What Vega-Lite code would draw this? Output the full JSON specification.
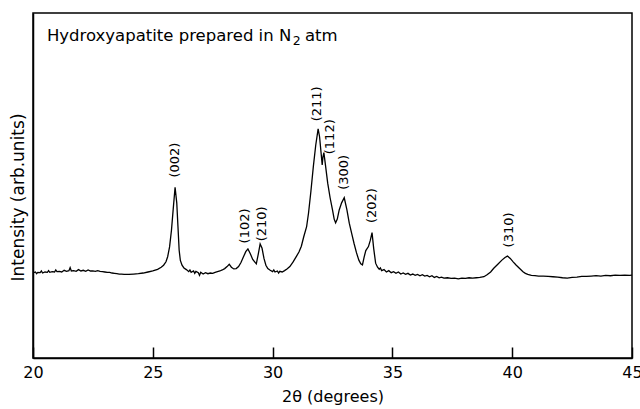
{
  "$schema": "https://vega.github.io/schema/vega-lite/v6.json",
  "width": 599,
  "height": 345,
  "autosize": {"type": "none"},
  "padding": {"left": 33, "top": 13, "right": 8, "bottom": 51},
  "background": "white",
  "config": {
    "view": {"stroke": "black", "strokeWidth": 1.5},
    "font": "DejaVu Sans"
  },
  "datasets": {
    "xrd": [
      {"t":20.00,"i":23.3},{"t":20.10,"i":23.6},{"t":20.15,"i":23.1},{"t":20.20,"i":23.5},{"t":20.30,"i":23.4},
      {"t":20.35,"i":23.9},{"t":20.40,"i":23.3},{"t":20.50,"i":23.6},{"t":20.60,"i":23.5},{"t":20.65,"i":24.0},
      {"t":20.70,"i":23.5},{"t":20.80,"i":23.7},{"t":20.90,"i":23.6},{"t":20.95,"i":24.2},{"t":21.00,"i":23.7},
      {"t":21.10,"i":23.8},{"t":21.20,"i":23.6},{"t":21.30,"i":24.1},{"t":21.40,"i":23.8},{"t":21.50,"i":24.0},
      {"t":21.55,"i":24.9},{"t":21.60,"i":23.9},{"t":21.70,"i":24.0},{"t":21.80,"i":23.8},{"t":21.90,"i":24.3},
      {"t":22.00,"i":23.9},{"t":22.10,"i":24.1},{"t":22.20,"i":23.8},{"t":22.30,"i":24.2},{"t":22.40,"i":23.9},
      {"t":22.50,"i":23.9},{"t":22.60,"i":23.8},{"t":22.70,"i":24.0},{"t":22.80,"i":23.8},{"t":22.90,"i":23.7},
      {"t":23.00,"i":23.6},{"t":23.10,"i":23.5},{"t":23.20,"i":23.5},{"t":23.30,"i":23.3},{"t":23.40,"i":23.2},
      {"t":23.50,"i":23.1},{"t":23.60,"i":23.0},{"t":23.70,"i":23.0},{"t":23.80,"i":22.9},{"t":23.90,"i":22.9},
      {"t":24.00,"i":22.9},{"t":24.20,"i":23.0},{"t":24.40,"i":23.1},{"t":24.60,"i":23.3},{"t":24.80,"i":23.6},
      {"t":25.00,"i":23.9},{"t":25.20,"i":24.4},{"t":25.35,"i":25.0},{"t":25.45,"i":25.6},{"t":25.55,"i":26.6},
      {"t":25.62,"i":28.1},{"t":25.70,"i":31.0},{"t":25.78,"i":36.0},{"t":25.85,"i":42.0},{"t":25.93,"i":48.6},
      {"t":26.00,"i":44.0},{"t":26.05,"i":37.0},{"t":26.10,"i":30.0},{"t":26.15,"i":27.0},{"t":26.22,"i":25.6},
      {"t":26.30,"i":24.8},{"t":26.40,"i":24.3},{"t":26.50,"i":23.7},{"t":26.55,"i":24.2},{"t":26.60,"i":23.5},
      {"t":26.70,"i":23.9},{"t":26.75,"i":23.2},{"t":26.80,"i":23.8},{"t":26.90,"i":23.4},{"t":26.95,"i":22.6},
      {"t":27.00,"i":23.5},{"t":27.10,"i":23.0},{"t":27.20,"i":23.4},{"t":27.30,"i":23.1},{"t":27.40,"i":23.3},
      {"t":27.50,"i":23.2},{"t":27.60,"i":23.5},{"t":27.70,"i":23.7},{"t":27.80,"i":23.9},{"t":27.90,"i":24.2},
      {"t":28.00,"i":24.6},{"t":28.10,"i":25.2},{"t":28.19,"i":25.9},{"t":28.28,"i":25.0},{"t":28.38,"i":24.5},
      {"t":28.48,"i":24.6},{"t":28.58,"i":25.2},{"t":28.68,"i":26.4},{"t":28.78,"i":28.0},{"t":28.88,"i":29.6},
      {"t":28.97,"i":30.4},{"t":29.07,"i":29.0},{"t":29.17,"i":27.3},{"t":29.32,"i":26.0},{"t":29.40,"i":28.8},
      {"t":29.48,"i":31.9},{"t":29.56,"i":30.6},{"t":29.64,"i":27.6},{"t":29.72,"i":25.6},{"t":29.80,"i":24.6},
      {"t":29.90,"i":24.1},{"t":30.00,"i":23.7},{"t":30.05,"i":24.2},{"t":30.10,"i":23.6},{"t":30.20,"i":23.9},
      {"t":30.25,"i":23.3},{"t":30.30,"i":23.8},{"t":30.40,"i":23.6},{"t":30.50,"i":24.0},{"t":30.60,"i":24.5},
      {"t":30.72,"i":25.2},{"t":30.85,"i":26.5},{"t":31.00,"i":28.3},{"t":31.10,"i":29.5},{"t":31.20,"i":31.2},
      {"t":31.30,"i":34.0},{"t":31.42,"i":37.0},{"t":31.50,"i":41.0},{"t":31.60,"i":47.5},{"t":31.70,"i":54.7},
      {"t":31.80,"i":61.0},{"t":31.90,"i":65.8},{"t":31.96,"i":63.5},{"t":32.02,"i":59.0},{"t":32.07,"i":55.2},
      {"t":32.10,"i":57.5},{"t":32.14,"i":58.8},{"t":32.20,"i":55.5},{"t":32.30,"i":49.8},{"t":32.40,"i":45.5},
      {"t":32.50,"i":41.9},{"t":32.57,"i":39.2},{"t":32.63,"i":38.1},{"t":32.70,"i":39.2},{"t":32.78,"i":41.9},
      {"t":32.88,"i":44.0},{"t":32.99,"i":45.5},{"t":33.10,"i":42.0},{"t":33.20,"i":38.0},{"t":33.30,"i":35.0},
      {"t":33.40,"i":32.0},{"t":33.50,"i":29.3},{"t":33.60,"i":27.1},{"t":33.68,"i":26.0},{"t":33.75,"i":25.7},
      {"t":33.82,"i":28.0},{"t":33.89,"i":29.9},{"t":34.00,"i":31.1},{"t":34.08,"i":33.0},{"t":34.15,"i":35.2},
      {"t":34.22,"i":30.5},{"t":34.30,"i":26.2},{"t":34.38,"i":25.0},{"t":34.45,"i":24.4},{"t":34.50,"i":24.8},
      {"t":34.55,"i":24.0},{"t":34.65,"i":24.3},{"t":34.75,"i":23.6},{"t":34.85,"i":24.0},{"t":34.95,"i":23.4},
      {"t":35.05,"i":23.7},{"t":35.15,"i":23.2},{"t":35.25,"i":23.6},{"t":35.35,"i":23.0},{"t":35.45,"i":23.3},
      {"t":35.55,"i":22.9},{"t":35.65,"i":23.2},{"t":35.75,"i":22.7},{"t":35.85,"i":23.0},{"t":35.95,"i":22.6},
      {"t":36.05,"i":22.9},{"t":36.15,"i":22.5},{"t":36.25,"i":22.8},{"t":36.35,"i":22.4},{"t":36.45,"i":22.6},
      {"t":36.55,"i":22.2},{"t":36.65,"i":22.5},{"t":36.75,"i":22.0},{"t":36.85,"i":22.3},{"t":36.95,"i":21.9},
      {"t":37.05,"i":22.1},{"t":37.15,"i":21.8},{"t":37.30,"i":21.9},{"t":37.45,"i":21.7},{"t":37.60,"i":21.8},
      {"t":37.75,"i":21.6},{"t":37.90,"i":21.8},{"t":38.05,"i":21.7},{"t":38.20,"i":21.9},{"t":38.35,"i":21.8},
      {"t":38.50,"i":21.9},{"t":38.65,"i":22.0},{"t":38.82,"i":22.2},{"t":38.95,"i":22.8},{"t":39.10,"i":23.6},
      {"t":39.23,"i":24.7},{"t":39.40,"i":25.9},{"t":39.57,"i":27.1},{"t":39.70,"i":27.9},{"t":39.80,"i":28.3},
      {"t":39.92,"i":27.6},{"t":40.04,"i":26.6},{"t":40.17,"i":25.6},{"t":40.30,"i":24.7},{"t":40.45,"i":23.7},
      {"t":40.55,"i":23.2},{"t":40.65,"i":22.9},{"t":40.80,"i":22.6},{"t":40.95,"i":22.5},{"t":41.10,"i":22.4},
      {"t":41.30,"i":22.4},{"t":41.50,"i":22.3},{"t":41.70,"i":22.2},{"t":41.90,"i":22.1},{"t":42.10,"i":21.9},
      {"t":42.30,"i":21.8},{"t":42.50,"i":22.0},{"t":42.70,"i":22.1},{"t":42.90,"i":22.3},{"t":43.10,"i":22.3},
      {"t":43.30,"i":22.4},{"t":43.50,"i":22.5},{"t":43.70,"i":22.4},{"t":43.90,"i":22.6},{"t":44.10,"i":22.5},
      {"t":44.30,"i":22.7},{"t":44.50,"i":22.6},{"t":44.70,"i":22.7},{"t":44.90,"i":22.6},{"t":45.00,"i":22.7}
    ],
    "labels": [
      {"t":25.93,"i":56.6,"label":"(002)"},
      {"t":28.83,"i":37.2,"label":"(102)"},
      {"t":29.55,"i":37.8,"label":"(210)"},
      {"t":31.87,"i":73.2,"label":"(211)"},
      {"t":32.38,"i":63.5,"label":"(112)"},
      {"t":32.97,"i":53.0,"label":"(300)"},
      {"t":34.15,"i":43.2,"label":"(202)"},
      {"t":39.85,"i":36.0,"label":"(310)"}
    ],
    "note": [
      {"t":20.58,"i":91.7,"label":"Hydroxyapatite prepared in N","size":16.5},
      {"t":30.84,"i":90.5,"label":"2","size":12.5},
      {"t":31.35,"i":91.7,"label":"atm","size":16.5}
    ]
  },
  "layer": [
    {
      "data": {"name": "xrd"},
      "mark": {"type": "line", "color": "black", "strokeWidth": 1.3, "clip": true},
      "encoding": {
        "x": {
          "field": "t", "type": "quantitative",
          "scale": {"domain": [20, 45], "nice": false, "zero": false},
          "axis": {
            "values": [20, 25, 30, 35, 40, 45],
            "title": "2θ (degrees)",
            "grid": false,
            "tickSize": -11,
            "tickColor": "black",
            "tickWidth": 1.5,
            "domainColor": "black",
            "domainWidth": 1.5,
            "labelFont": "DejaVu Sans",
            "labelFontSize": 16,
            "labelColor": "black",
            "labelFlush": false,
            "labelBound": false,
            "labelPadding": 17,
            "titleFont": "DejaVu Sans",
            "titleFontSize": 16,
            "titleFontWeight": "normal",
            "titleColor": "black",
            "titlePadding": 8
          }
        },
        "y": {
          "field": "i", "type": "quantitative",
          "scale": {"domain": [-1.77, 100], "nice": false, "zero": false},
          "axis": {
            "title": "Intensity (arb.units)",
            "labels": false,
            "ticks": false,
            "grid": false,
            "domainColor": "black",
            "domainWidth": 1.5,
            "titleFont": "DejaVu Sans",
            "titleFontSize": 17,
            "titleFontWeight": "normal",
            "titleColor": "black",
            "titlePadding": 6,
            "titleY": 184
          }
        }
      }
    },
    {
      "data": {"name": "labels"},
      "mark": {"type": "text", "angle": 270, "align": "center", "baseline": "middle", "fontSize": 13, "font": "DejaVu Sans", "color": "black"},
      "encoding": {
        "x": {"field": "t", "type": "quantitative"},
        "y": {"field": "i", "type": "quantitative"},
        "text": {"field": "label"}
      }
    },
    {
      "data": {"name": "note"},
      "mark": {"type": "text", "align": "left", "baseline": "alphabetic", "font": "DejaVu Sans", "color": "black"},
      "encoding": {
        "x": {"field": "t", "type": "quantitative"},
        "y": {"field": "i", "type": "quantitative"},
        "text": {"field": "label"},
        "size": {"field": "size", "type": "quantitative", "scale": null}
      }
    }
  ]
}
